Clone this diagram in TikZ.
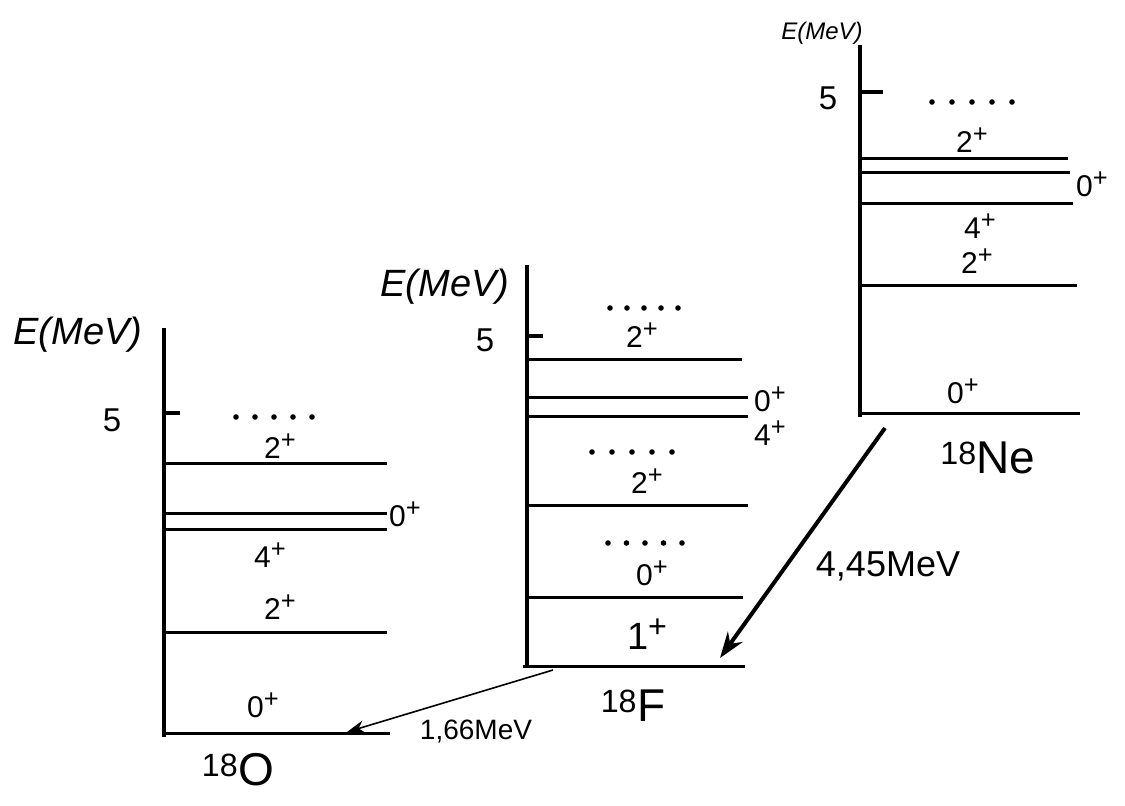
\documentclass[tikz,border=0pt]{standalone}
\usepackage{fontspec}
\setmainfont{Liberation Sans}
\usetikzlibrary{arrows.meta}
\newcommand\jpar[1]{#1\raisebox{.32em}{\scalebox{.85}{+}}}
\begin{document}
\begin{tikzpicture}[x=1pt,y=-1pt,
  level/.style={line width=3pt},
  axisline/.style={line width=3.6pt},
  lab/.style={font=\fontsize{30}{32}\selectfont, inner sep=0pt},
  numlab/.style={font=\fontsize{33}{35}\selectfont, inner sep=0pt},
  biglab/.style={font=\fontsize{38}{40}\selectfont, inner sep=0pt},
  elab/.style={font=\fontsize{38}{40}\selectfont\itshape, inner sep=0pt},
  namelab/.style={font=\fontsize{46}{48}\selectfont, inner sep=0pt},
  dotmark/.style={fill=black}]
\useasboundingbox (0,0) rectangle (1125,806);

% ---------------- 18O ----------------
\draw[axisline] (164,328) -- (164,737);
\draw[axisline] (164,413) -- (180,413);
\node[numlab] (o5) at (112,420) {5};
\node[elab] (oE) at (78,335) {E(MeV)};
\foreach \i in {0,...,4} \fill[dotmark] (236+\i*19,417) circle (2.8pt);
\draw[level] (164,463) -- (387,463);
\draw[level] (164,513) -- (387,513);
\draw[level] (164,529) -- (387,529);
\draw[level] (164,632) -- (387,632);
\draw[level] (164,733) -- (390,733);
\node[lab] (o2a) at (280,446) {\jpar{2}};
\node[lab,anchor=west] (o0a) at (389,514) {\jpar{0}};
\node[lab] (o4) at (270,555) {\jpar{4}};
\node[lab] (o2b) at (280,607) {\jpar{2}};
\node[lab] (o0b) at (263,705) {\jpar{0}};
\node[namelab] (oname) at (238,770) {\textsuperscript{18}O};
\coordinate (oArr) at (347,732);

% ---------------- 18F ----------------
\draw[axisline] (527,265) -- (527,667);
\draw[axisline] (527,336) -- (543,336);
\node[numlab] (f5) at (485,340) {5};
\node[elab] (fE) at (445,287) {E(MeV)};
\foreach \i in {0,...,4} \fill[dotmark] (610+\i*17,308) circle (2.8pt);
\foreach \i in {0,...,4} \fill[dotmark] (592+\i*20,452) circle (2.8pt);
\foreach \i in {0,...,4} \fill[dotmark] (608+\i*18.5,543) circle (2.8pt);
\draw[level] (527,359) -- (742,359);
\draw[level] (527,397) -- (748,397);
\draw[level] (527,416) -- (748,416);
\draw[level] (527,505) -- (748,505);
\draw[level] (527,597) -- (743,597);
\draw[level] (523,666) -- (745,666);
\node[lab] (f2a) at (642,335) {\jpar{2}};
\node[lab,anchor=west] (f0a) at (754,399) {\jpar{0}};
\node[lab,anchor=west] (f4) at (754,433) {\jpar{4}};
\node[lab] (f2b) at (647,481) {\jpar{2}};
\node[lab] (f0b) at (652,573) {\jpar{0}};
\node[biglab] (f1) at (647,634) {\jpar{1}};
\node[namelab] (fname) at (633,706) {\textsuperscript{18}F};
\coordinate (fStart) at (553,670);
\coordinate (fArr) at (720,658);

% ---------------- 18Ne ----------------
\draw[axisline] (860,45) -- (860,417);
\draw[axisline] (860,92) -- (883,92);
\node[numlab] (n5) at (828,98) {5};
\node[font=\fontsize{24}{26}\selectfont\itshape, inner sep=0pt] (nE) at (822,33) {E(MeV)};
\foreach \i in {0,...,4} \fill[dotmark] (932+\i*20,102) circle (2.8pt);
\draw[level] (860,158) -- (1068,158);
\draw[level] (860,172) -- (1070,172);
\draw[level] (860,203) -- (1073,203);
\draw[level] (860,285) -- (1077,285);
\draw[level] (860,413) -- (1080,413);
\node[lab] (n2a) at (972,140) {\jpar{2}};
\node[lab,anchor=west] (n0a) at (1076,184) {\jpar{0}};
\node[lab] (n4) at (980,226) {\jpar{4}};
\node[lab] (n2b) at (977,261) {\jpar{2}};
\node[lab] (n0b) at (963,391) {\jpar{0}};
\node[namelab] (nname) at (988,458) {\textsuperscript{18}Ne};
\coordinate (nStart) at (885,428);

% ---------------- transitions ----------------
\draw[line width=4pt, -{Stealth[length=26pt,width=18pt]}] (nStart) -- (fArr);
\node[font=\fontsize{36}{38}\selectfont, inner sep=0pt] (t445) at (888,566) {4,45MeV};
\draw[line width=1.6pt, -{Stealth[length=18pt,width=13pt]}] (fStart) -- (oArr);
\node[font=\fontsize{28}{30}\selectfont, inner sep=0pt] (t166) at (476,732) {1,66MeV};
\end{tikzpicture}
\end{document}
